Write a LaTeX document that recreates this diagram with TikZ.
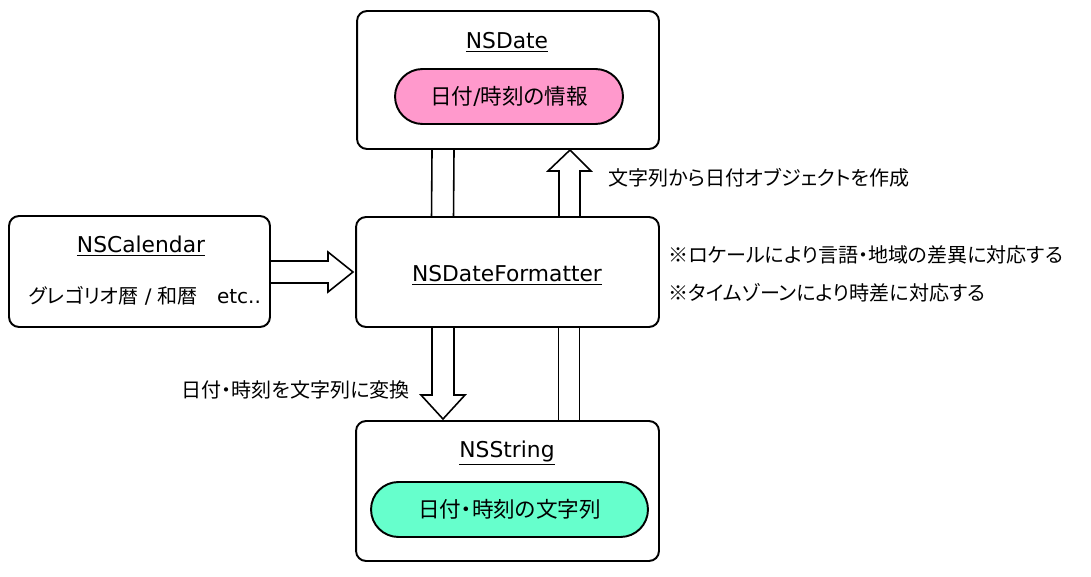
\documentclass[tikz,border=0pt]{standalone}
\usepackage{fontspec}
\setmainfont{Noto Sans CJK JP}[RawFeature=+palt]
\newfontfamily\latinfont{DejaVu Sans}
\definecolor{pinkfill}{HTML}{FF99CC}
\definecolor{greenfill}{HTML}{66FFCC}

\begin{document}
\begin{tikzpicture}[x=0.02cm, y=-0.02cm,
    font=\fontsize{11.4pt}{13pt}\selectfont,
    class_box/.style={draw, line width=1.1pt, rounded corners=0.2cm, inner sep=0},
    class_name/.style={font=\fontsize{12.4pt}{14pt}\latinfont},
    info_pill/.style={draw, line width=1.1pt, rounded corners=0.55cm, minimum height=1.1cm, inner sep=0, font=\fontsize{12.3pt}{14pt}\selectfont},
    block_arrow/.style={draw, line width=0.9pt, line join=miter},
    note/.style={inner sep=0}]
    \useasboundingbox (0,0) rectangle (1091,577);

    % classes
    \node[class_box, minimum width=6.04cm, minimum height=2.76cm] (date) at (508,80) {};
    \node[class_box, minimum width=6.06cm, minimum height=2.2cm] (fmt) at (507.5,272) {};
    \node[class_box, minimum width=5.22cm, minimum height=2.22cm] (cal) at (139.5,271.5) {};
    \node[class_box, minimum width=6.06cm, minimum height=2.8cm] (str) at (507.5,491) {};

    \node[class_name] (date_t) at (507,42) {\underline{NSDate}};
    \node[class_name] (fmt_t) at (507,275) {\underline{NSDateFormatter}};
    \node[class_name] (cal_t) at (141,246) {\underline{NSCalendar}};
    \node[class_name] (str_t) at (507,453) {\underline{NSString}};
    \node (cal_kind) at (145,296) {グレゴリオ暦{\latinfont\ /\ }和暦{\latinfont\ \ \ etc..}};

    \node[info_pill, fill=pinkfill, minimum width=4.56cm] (date_info) at (509,96.5) {日付{\latinfont/}時刻の情報};
    \node[info_pill, fill=greenfill, minimum width=5.54cm] (str_info) at (509.5,509.5) {日付・時刻の文字列};

    % arrows
    \draw[block_arrow] ([xshift=-1.52cm]date.south) -- ([xshift=-1.52cm]fmt.north);
    \draw[block_arrow] ([xshift=-1.08cm]date.south) -- ([xshift=-1.08cm]fmt.north);
    \draw[block_arrow] (559,217) -- (559,171) -- (548,171) -- (570,150) -- (591,171) -- (580,171) -- (580,217);

    \draw[block_arrow] (270,261) -- (328,261) -- (328,252) -- (353,272) -- (328,292) -- (328,283) -- (270,283);

    \draw[block_arrow] (432,327) -- (432,395) -- (421,395) -- (443,419) -- (465,395) -- (454,395) -- (454,327);
    \draw[block_arrow] ([xshift=1.02cm]fmt.south) -- ([xshift=1.02cm]str.north);
    \draw[block_arrow] ([xshift=1.44cm]fmt.south) -- ([xshift=1.44cm]str.north);

    % notes
    \node[note, anchor=west] (parse_n) at (608,178) {文字列から日付オブジェクトを作成};
    \node[note, anchor=west] (locale_n) at (668,255) {※ロケールにより言語・地域の差異に対応する};
    \node[note, anchor=west] (tz_n) at (668,293) {※タイムゾーンにより時差に対応する};
    \node[note, anchor=east] (format_n) at (410,390) {日付・時刻を文字列に変換};
\end{tikzpicture}
\end{document}
